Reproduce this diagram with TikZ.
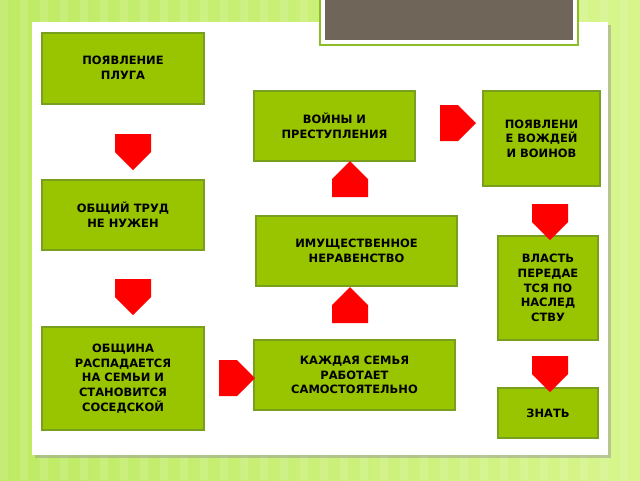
\documentclass[tikz,border=0pt]{standalone}
\usepackage{fontspec}
\setmainfont{DejaVu Sans}
\usetikzlibrary{shapes.arrows}
\definecolor{boxg}{RGB}{153,196,0}
\definecolor{boxb}{RGB}{120,160,30}
\definecolor{bgA}{RGB}{190,235,100}
\definecolor{bgB}{RGB}{215,245,140}
\definecolor{topg}{RGB}{111,101,88}
\definecolor{rimg}{RGB}{140,190,40}
\begin{document}
\begin{tikzpicture}[x=0.75pt,y=-0.75pt,
  gbox/.style={draw=boxb,line width=1pt,fill=boxg,align=center,font=\bfseries\fontsize{8.6}{11}\selectfont,inner sep=0pt},
  arr/.style={single arrow,fill=red,draw=none,minimum height=27pt,minimum width=27pt,single arrow head extend=0pt,single arrow tip angle=90,inner sep=0pt}]
\useasboundingbox (0,0) rectangle (640,480);
\shade[left color=bgA,right color=bgB] (0,0) rectangle (640,480);
\foreach \x in {0,20,...,640}{\fill[white,opacity=0.12] (\x,0) rectangle ++(8,480);}
\fill[black!40,opacity=0.5] (35,25) rectangle (611,458);
\fill[white] (32,22) rectangle (608,455);
\draw[rimg,line width=1.5pt,fill=white] (320,-2) rectangle (578,45);
\fill[topg] (325,-2) rectangle (573,40);
% boxes
\path[gbox] (42,33) rectangle (204,104);
\node[font=\bfseries\fontsize{8.6}{11}\selectfont,align=center] (b1) at (123,68) {ПОЯВЛЕНИЕ\\ПЛУГА};
\path[gbox] (254,91) rectangle (415,161);
\node[font=\bfseries\fontsize{8.6}{11}\selectfont,align=center] (b2) at (334.5,126) {ВОЙНЫ И\\ПРЕСТУПЛЕНИЯ};
\path[gbox] (483,91) rectangle (600,186);
\node[font=\bfseries\fontsize{8.6}{11}\selectfont,align=center] (b3) at (541.5,138.5) {ПОЯВЛЕНИ\\Е ВОЖДЕЙ\\И ВОИНОВ};
\path[gbox] (42,180) rectangle (204,250);
\node[font=\bfseries\fontsize{8.6}{11}\selectfont,align=center] (b4) at (123,215) {ОБЩИЙ ТРУД\\НЕ НУЖЕН};
\path[gbox] (256,216) rectangle (457,286);
\node[font=\bfseries\fontsize{8.6}{11}\selectfont,align=center] (b5) at (356.5,251) {ИМУЩЕСТВЕННОЕ\\НЕРАВЕНСТВО};
\path[gbox] (498,236) rectangle (598,340);
\node[font=\bfseries\fontsize{8.6}{11}\selectfont,align=center] (b6) at (548,288) {ВЛАСТЬ\\ПЕРЕДАЕ\\ТСЯ ПО\\НАСЛЕД\\СТВУ};
\path[gbox] (42,327) rectangle (204,430);
\node[font=\bfseries\fontsize{8.6}{11}\selectfont,align=center] (b7) at (123,378.5) {ОБЩИНА\\РАСПАДАЕТСЯ\\НА СЕМЬИ И\\СТАНОВИТСЯ\\СОСЕДСКОЙ};
\path[gbox] (254,340) rectangle (455,410);
\node[font=\bfseries\fontsize{8.6}{11}\selectfont,align=center] (b8) at (354.5,375) {КАЖДАЯ СЕМЬЯ\\РАБОТАЕТ\\САМОСТОЯТЕЛЬНО};
\path[gbox] (498,388) rectangle (598,438);
\node[font=\bfseries\fontsize{8.6}{11}\selectfont,align=center] (b9) at (548,413) {ЗНАТЬ};
% arrows
\node[arr,shape border rotate=270] (a1) at (133,143) {};
\node[arr,shape border rotate=270] (a2) at (133,288) {};
\node[arr,shape border rotate=90] (a3) at (350,188) {};
\node[arr,shape border rotate=90] (a4) at (350,314) {};
\node[arr] (a5) at (449,123) {};
\node[arr] (a6) at (228,378) {};
\node[arr,shape border rotate=270] (a7) at (550,213) {};
\node[arr,shape border rotate=270] (a8) at (550,365) {};
\end{tikzpicture}
\end{document}
